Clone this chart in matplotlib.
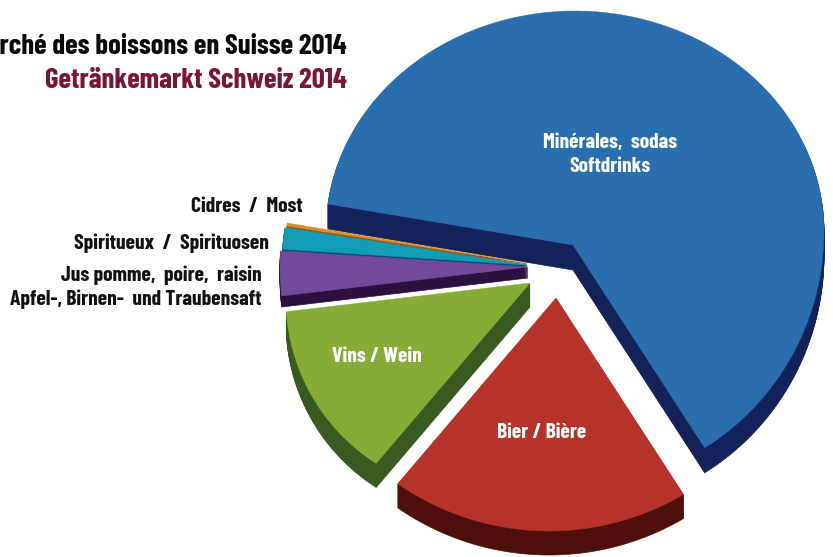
import numpy as np
import matplotlib
matplotlib.use("Agg")
import matplotlib.pyplot as plt

# share of the market in percent
names = ['Minérales, sodas', 'Cidres', 'Spiritueux', 'Jus', 'Vins', 'Bier']
values = [63.2, 0.2, 1.4, 2.9, 11.9, 20.4]
colors = ['#2a6eae', '#dd8f2e', '#129db6', '#734a99', '#86ac36', '#b5332a']
darks = ['#13235a', '#8a5a20', '#0d4f70', '#2a1140', '#385a20', '#4e0f0a']
title_fr = 'Marché des boissons en Suisse 2014'
title_de = 'Getränkemarkt Schweiz 2014'
start_angle = -57.0

# layout in pixels: apex, rim centre, rim radii (x, up, down), depth
shapes = {
    'Minérales, sodas': ((573, 245), (575, 231), 249, 220, 254, 25),
    'Cidres': ((527, 263), (527, 263), 243, 243, 243, 3),
    'Spiritueux': ((527, 265), (527, 265), 245, 245, 245, 3),
    'Jus': ((528, 267), (528, 267), 248, 248, 248, 11),
    'Vins': ((530, 283), (481, 299), 195, 195, 195, 24),
    'Bier': ((556, 298), (549, 265), 266, 266, 266, 24),
}


def slice_outline(name, t1, t2):
    (ax_, ay_), (cx, cy), rx, ry_up, ry_down, depth = shapes[name]
    phi = np.radians(np.arange(0, 360, 0.5))
    ry = np.where(np.sin(phi) >= 0, ry_up, ry_down)
    ox = cx + rx * np.cos(phi) - ax_
    oy = ry * np.sin(phi) + (ay_ - cy)
    ang = np.degrees(np.arctan2(oy, ox)) % 360
    rad = np.hypot(ox, oy)
    th = np.linspace(t1, t2, 200)
    r = np.interp(th % 360, ang[np.argsort(ang)], rad[np.argsort(ang)], period=360)
    xs = np.r_[ax_, ax_ + r * np.cos(np.radians(th))]
    ys = np.r_[ay_, ay_ - r * np.sin(np.radians(th))]
    return xs, ys, depth


plt.rcParams['font.family'] = ['Barlow Condensed', 'Liberation Sans', 'DejaVu Sans']
plt.rcParams['font.weight'] = 'bold'

fig = plt.figure(figsize=(8.33, 5.57), dpi=100)
ax = fig.add_axes([0, 0, 1, 1])
ax.set_xlim(0, 833)
ax.set_ylim(557, 0)
ax.axis('off')

edges = start_angle + np.r_[0, np.cumsum(values)] / sum(values) * 360
for i, name in enumerate(names):
    xs, ys, depth = slice_outline(name, edges[i], edges[i + 1])
    for d in np.arange(depth, 0, -1):
        ax.fill(xs, ys + d, color=darks[i], lw=0.5)
    ax.fill(xs, ys, color=colors[i], lw=0.3)

ax.text(347, 47, title_fr, ha='right', va='center', fontsize=20.7, color='#0a0a0a')
ax.text(347, 80, title_de, ha='right', va='center', fontsize=20.7, color='#7a1535')

ax.text(610, 143, 'Minérales,  sodas', ha='center', va='center', fontsize=15.5, color='white')
ax.text(610, 167, 'Softdrinks', ha='center', va='center', fontsize=15.5, color='white')
ax.text(377, 357, 'Vins / Wein', ha='center', va='center', fontsize=15.5, color='white')
ax.text(542, 433, 'Bier / Bière', ha='center', va='center', fontsize=15.5, color='white')

ax.text(303, 207, 'Cidres  /  Most', ha='right', va='center', fontsize=15.5, color='#111111')
ax.text(269, 243, 'Spiritueux  /  Spirituosen', ha='right', va='center', fontsize=15.5, color='#111111')
ax.text(262, 275, 'Jus pomme,  poire,  raisin', ha='right', va='center', fontsize=15.5, color='#111111')
ax.text(262, 299, 'Apfel-, Birnen-  und Traubensaft', ha='right', va='center', fontsize=15.5, color='#111111')

fig.savefig('out.png', dpi=100)
